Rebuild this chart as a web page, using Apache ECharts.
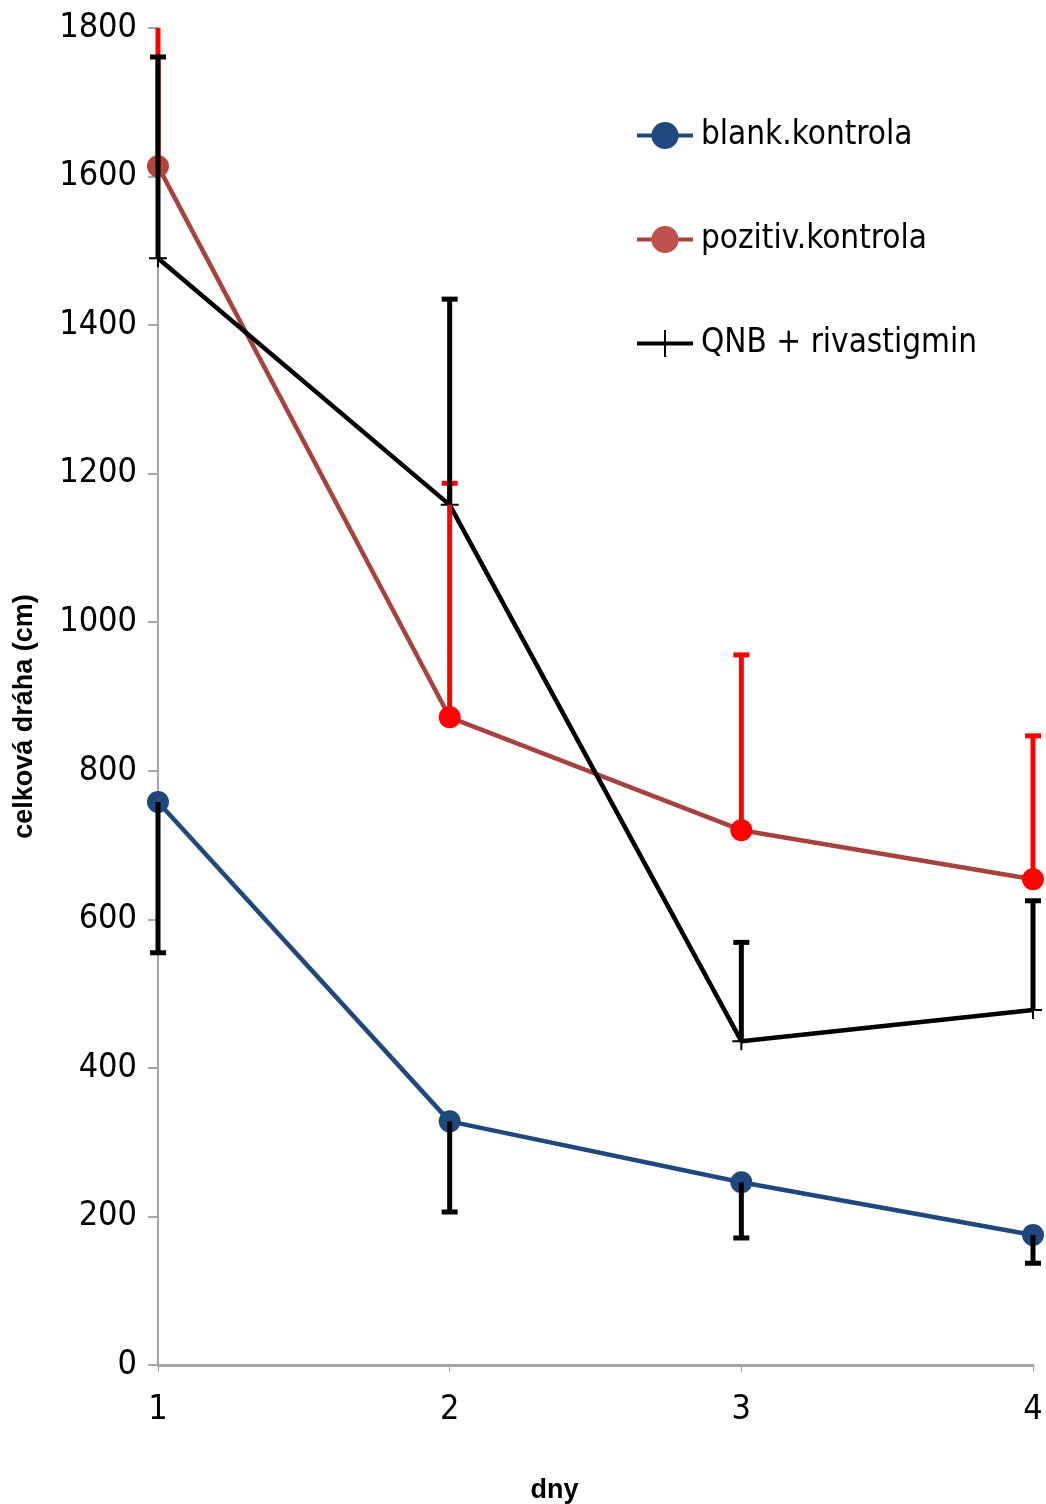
<!DOCTYPE html>
<html><head><meta charset="utf-8">
<script src="https://cdn.jsdelivr.net/npm/echarts@6/dist/echarts.min.js"></script>
<style>html,body{margin:0;padding:0;background:#fff}#c{width:1046px;height:1504px}</style>
</head><body><div id="c"></div>
<script>
const days = [1, 2, 3, 4];
const yTicks = [0, 200, 400, 600, 800, 1000, 1200, 1400, 1600, 1800];
const seriesNames = ['blank.kontrola', 'pozitiv.kontrola', 'QNB + rivastigmin'];
const blank = [758, 328, 246, 175];
const blankErr = [203, 122, 75, 38];       // drawn downward
const pozitiv = [1614, 872, 720, 654];
const pozitivErr = [200, 315, 236, 193];   // drawn upward
const qnb = [1490, 1158, 436, 478];
const qnbErr = [271, 277, 133, 147];       // drawn upward

const NARROW = "'Liberation Sans Narrow','DejaVu Sans Condensed','Open Sans',sans-serif";
const BOLD = "'Liberation Sans',Arial,sans-serif";
const YMAX = 1800;

function errSeries(vals, errs, dir, color) {
  const data = vals.map((v, i) => dir < 0 ? [days[i], v - errs[i], v] : [days[i], v, v + errs[i]]);
  return {
    type: 'custom', silent: true, z: 5, legendHoverLink: false,
    data: data,
    renderItem: function (params, api) {
      const x = api.value(0), lo = api.value(1), hi = api.value(2);
      const hiC = Math.min(hi, YMAX);
      const p1 = api.coord([x, lo]), p2 = api.coord([x, hiC]);
      const cw = 8;
      const st = { stroke: color, lineWidth: 5 };
      const children = [{ type: 'line', shape: { x1: p1[0], y1: p1[1], x2: p2[0], y2: p2[1] }, style: st }];
      if (dir < 0) children.push({ type: 'line', shape: { x1: p1[0] - cw, y1: p1[1], x2: p1[0] + cw, y2: p1[1] }, style: st });
      if (dir > 0 && hi <= YMAX) children.push({ type: 'line', shape: { x1: p2[0] - cw, y1: p2[1], x2: p2[0] + cw, y2: p2[1] }, style: st });
      return { type: 'group', children: children };
    }
  };
}

const plusPath = 'path://M0,10 L20,10 M10,0 L10,20';

const option = {
  animation: false,
  backgroundColor: '#fff',
  grid: { left: 158, right: 13, top: 28, bottom: 139, containLabel: false, outerBoundsMode: 'none' },
  legend: {
    orient: 'vertical', left: 635, top: 119, itemGap: 71, padding: 0,
    itemWidth: 56, itemHeight: 34,
    lineStyle: { width: 4 },
    textStyle: { fontSize: 33, color: '#000', fontFamily: NARROW, padding: [0, 0, 0, 3] },
    data: seriesNames
  },
  xAxis: {
    type: 'value', min: 1, max: 4, interval: 1,
    name: 'dny', nameLocation: 'middle', nameGap: 112,
    nameTextStyle: { fontSize: 27, fontWeight: 'bold', color: '#000', fontFamily: BOLD, padding: [0, 82, 0, 0] },
    axisLine: { show: true, lineStyle: { color: '#a6a6a6', width: 3 } },
    axisTick: { show: true, length: 7, lineStyle: { color: '#a6a6a6', width: 1 } },
    axisLabel: { fontSize: 34, color: '#000', fontFamily: NARROW, margin: 28, formatter: v => days.includes(v) ? String(v) : '' },
    splitLine: { show: false }
  },
  yAxis: {
    type: 'value', min: 0, max: YMAX, interval: 200,
    name: 'celková dráha (cm)', nameLocation: 'middle', nameGap: 120, nameRotate: 90,
    nameTextStyle: { fontSize: 27, fontWeight: 'bold', color: '#000', fontFamily: BOLD, padding: [0, 40, 0, 0] },
    axisLine: { show: true, lineStyle: { color: '#a6a6a6', width: 2 } },
    axisTick: { show: true, length: 10, lineStyle: { color: '#a6a6a6', width: 2 } },
    axisLabel: { fontSize: 34, color: '#000', fontFamily: NARROW, margin: 21, formatter: v => yTicks.includes(v) ? String(v) : '' },
    splitLine: { show: false }
  },
  series: [
    {
      name: seriesNames[0], type: 'line', z: 3,
      data: blank.map((v, i) => [days[i], v]),
      symbol: 'circle', symbolSize: 22,
      lineStyle: { color: '#1f497d', width: 4.5 },
      itemStyle: { color: '#1f497d' }
    },
    {
      name: seriesNames[1], type: 'line', z: 3,
      data: pozitiv.map((v, i) => ({ value: [days[i], v], itemStyle: { color: i === 0 ? '#b5443f' : '#ff0000' } })),
      symbol: 'circle', symbolSize: 22,
      lineStyle: { color: '#a8423f', width: 4.5 },
      itemStyle: { color: '#c0504d' }
    },
    {
      name: seriesNames[2], type: 'line', z: 4,
      data: qnb.map((v, i) => [days[i], v]),
      symbol: plusPath, symbolSize: 18,
      lineStyle: { color: '#000', width: 4.5 },
      itemStyle: { color: 'none', borderColor: '#000', borderWidth: 2 }
    },
    errSeries(blank, blankErr, -1, '#000'),
    errSeries(pozitiv, pozitivErr, 1, '#ff0000'),
    errSeries(qnb, qnbErr, 1, '#000')
  ]
};
const chart = echarts.init(document.getElementById('c'), null, { renderer: 'canvas' });
chart.setOption(option);
</script></body></html>
